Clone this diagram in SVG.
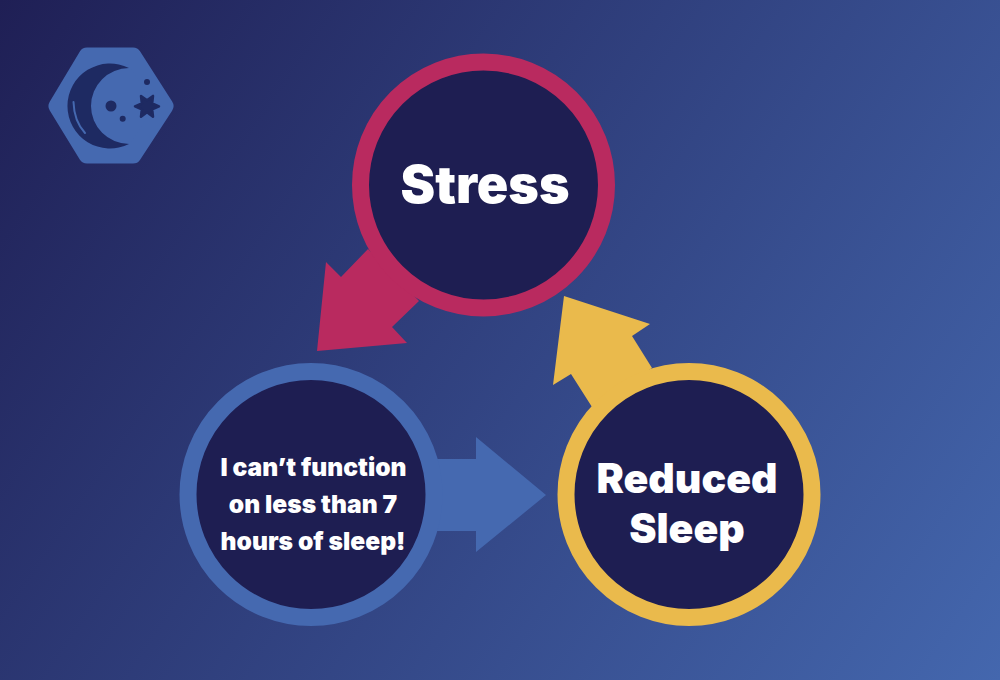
<svg xmlns="http://www.w3.org/2000/svg" width="1000" height="680" viewBox="0 0 1000 680">
<defs>
<linearGradient id="bg" gradientUnits="userSpaceOnUse" x1="0" y1="0" x2="1000" y2="680">
<stop offset="0" stop-color="#1f1f55"/><stop offset="1" stop-color="#4467ae"/>
</linearGradient>
</defs>
<style>
.core{fill:#1e1e52}
.t{font-family:"Inter","Liberation Sans",sans-serif;font-weight:900;fill:#fff;text-anchor:middle}
.big{font-size:52px}
.mid{font-size:41px}
.small{font-size:24.6px}
.ring{fill:none;stroke-width:17}
</style>
<rect width="1000" height="680" fill="url(#bg)"/>
<g id="logo">
<polygon points="57,106 87,56 133,56 165,106 133,155 87,155" fill="#4569b0" stroke="#4569b0" stroke-width="17" stroke-linejoin="round"/>
<path d="M129 68A42.5 42.500 0 1 0 129 144A38 38 0 0 1 129 68Z" fill="#1e2a62"/>
<path d="M73.500 102Q74 121 85 133" fill="none" stroke="#4569b0" stroke-width="2" stroke-linecap="round"/>
<circle cx="111" cy="106" r="5.500" fill="#1e2a62"/>
<circle cx="122.700" cy="118.700" r="3" fill="#1e2a62"/>
<circle cx="147" cy="82" r="3" fill="#1e2a62"/>
<polygon points="159,106.300 152.200,109.300 153,116.700 147,112.300 141,116.700 141.800,109.300 135,106.300 141.800,103.300 141,95.900 147,100.300 153,95.900 152.200,103.300" fill="#1e2a62" stroke="#1e2a62" stroke-width="2.500" stroke-linejoin="round"/>
</g>
<g id="connectors">
<polygon id="arrow-red" points="368,249 341,277 326,262 317,351 407,343 392,327 419,301" fill="#b92a5f"/>
<polygon id="arrow-yellow" points="592,407 571,374 553,385 564,296 650,324 632,336 652,368" fill="#eaba4c"/>
<polygon id="arrow-blue" points="437,459 476,459 476,437 546,495 476,552 476,531 437,531" fill="#4569b0"/>
</g>
<g id="stress">
<circle class="core" cx="483.500" cy="185" r="123"/>
<circle class="ring" cx="483.500" cy="185" r="123" stroke="#b92a5f"/>
<text class="t big" x="485" y="203">Stress</text>
</g>
<g id="function">
<circle class="core" cx="311" cy="494.500" r="123"/>
<circle class="ring" cx="311" cy="494.500" r="123" stroke="#4569b0"/>
<text class="t small" x="313.500" y="476">I can’t function</text>
<text class="t small" x="313" y="513">on less than 7</text>
<text class="t small" x="313" y="549.500">hours of sleep!</text>
</g>
<g id="reduced">
<circle class="core" cx="689" cy="494.500" r="123"/>
<circle class="ring" cx="689" cy="494.500" r="123" stroke="#eaba4c"/>
<text class="t mid" x="687" y="493">Reduced</text>
<text class="t mid" x="687" y="543">Sleep</text>
</g>
</svg>
